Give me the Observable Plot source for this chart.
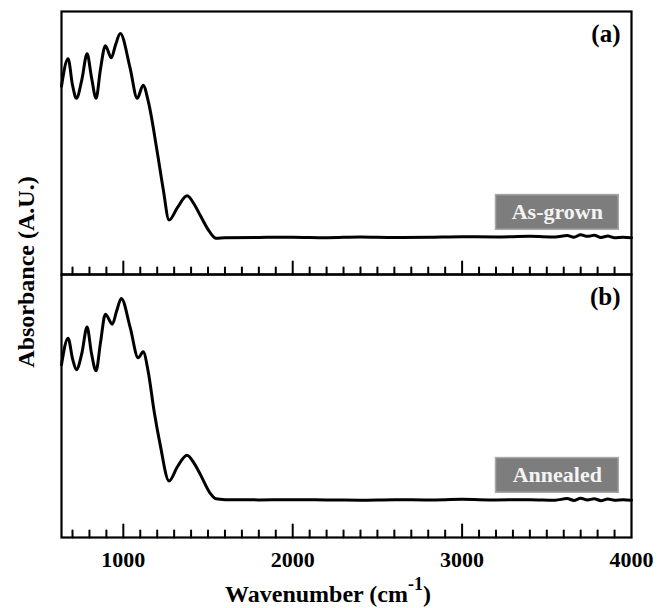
<!DOCTYPE html>
<html><head><meta charset="utf-8">
<script src="https://cdn.jsdelivr.net/npm/d3@7"></script>
<script src="https://cdn.jsdelivr.net/npm/@observablehq/plot@0.6"></script>
<style>body{margin:0;background:#fff} #chart svg{display:block}</style>
</head><body><div id="chart"></div>
<script>
// Panel (a): As-grown
const waveA = [635, 674, 700, 723, 755, 786, 812, 839, 865, 894, 929, 955, 982, 1040, 1082, 1117, 1147, 1200, 1235, 1270, 1320, 1376, 1420, 1453, 1511, 1547, 1600, 1800, 2000, 2200, 2400, 2600, 2800, 3000, 3200, 3400, 3550, 3620, 3660, 3700, 3740, 3780, 3820, 3860, 3900, 3950, 4000];
const absA  = [71.6, 82.0, 72.0, 67.0, 74.0, 83.9, 75.0, 67.0, 78.0, 87.0, 82.4, 87.5, 91.6, 78.5, 67.0, 72.0, 65.9, 46.7, 32.6, 20.7, 25.5, 29.9, 26.5, 22.6, 16.1, 13.8, 14.0, 14.1, 14.2, 14.0, 14.3, 14.1, 14.2, 14.4, 14.3, 14.5, 14.3, 14.8, 14.2, 15.1, 14.5, 14.9, 14.1, 14.6, 14.0, 14.2, 14.0];
// Panel (b): Annealed
const waveB = [635, 674, 700, 723, 755, 786, 812, 839, 865, 894, 935, 960, 988, 1040, 1088, 1117, 1147, 1182, 1217, 1270, 1320, 1376, 1420, 1453, 1511, 1547, 1600, 1800, 2000, 2200, 2400, 2600, 2800, 3000, 3200, 3400, 3550, 3620, 3660, 3700, 3740, 3780, 3820, 3860, 3900, 3950, 4000];
const absB  = [65.7, 75.8, 68.0, 63.8, 70.0, 80.0, 70.0, 63.4, 74.0, 84.9, 81.1, 86.0, 90.9, 80.0, 68.3, 70.6, 63.0, 47.9, 35.5, 21.5, 27.0, 31.3, 28.0, 24.2, 17.0, 14.7, 14.4, 14.3, 14.4, 14.3, 14.2, 14.4, 14.3, 14.5, 14.3, 14.4, 14.2, 14.8, 14.1, 14.9, 14.3, 14.7, 14.0, 14.6, 14.2, 14.4, 14.2];

const panels = ["a", "b"];
const panelLabels = ["(a)", "(b)"];
const sampleLabels = ["As-grown", "Annealed"];
const xTickLabels = [1000, 2000, 3000, 4000];
const majorTicks = [1000, 2000, 3000];
const minorTicks = [700, 800, 900, 1100, 1200, 1300, 1400, 1500, 1600, 1700, 1800, 1900, 2100, 2200, 2300, 2400, 2500, 2600, 2700, 2800, 2900, 3100, 3200, 3300, 3400, 3500, 3600, 3700, 3800, 3900];

const rows = [
  ...waveA.map((w, i) => ({panel: "a", w, A: absA[i]})),
  ...waveB.map((w, i) => ({panel: "b", w, A: absB[i]}))
];

const tickShape = {draw(ctx, l) { ctx.moveTo(0, 0); ctx.lineTo(0, -l); }};
const serif = "'Liberation Serif', 'Times New Roman', serif";

const chart = Plot.plot({
  width: 670,
  height: 608,
  marginLeft: 61,
  marginRight: 39,
  marginTop: 11,
  marginBottom: 71,
  style: {fontFamily: serif, fontWeight: "bold", background: "#fff", color: "#000"},
  x: {domain: [635, 4000]},
  y: {domain: [0, 100], axis: null},
  fy: {domain: panels, axis: null, padding: 0},
  marks: [
    Plot.line(rows, {x: "w", y: "A", fy: "panel", curve: "monotone-x", stroke: "#000", strokeWidth: 3}),
    Plot.vector(minorTicks, {x: d => d, frameAnchor: "bottom", anchor: "start", length: 7, shape: tickShape, stroke: "#000", strokeWidth: 2}),
    Plot.vector(majorTicks, {x: d => d, frameAnchor: "bottom", anchor: "start", length: 13, shape: tickShape, stroke: "#000", strokeWidth: 2}),
    Plot.rect(panels, {fy: d => d, x1: 3200, x2: 3925, y1: 17.0, y2: 30.2, fill: "#7d7d7d", stroke: "#a8a8a8", strokeWidth: 1.5}),
    Plot.text(panels, {fy: d => d, x: 3562, y: 23.6, text: (d, i) => sampleLabels[i], fill: "#f4f4f4", fontSize: 22, fontWeight: "bold", fontFamily: serif}),
    Plot.text(panels, {fy: d => d, text: (d, i) => panelLabels[i], frameAnchor: "top-right", dx: -11, dy: 13, fontSize: 25, fontWeight: "bold", fontFamily: serif, lineAnchor: "top"}),
    Plot.frame({stroke: "#000", strokeWidth: 2.2}),
    Plot.axisX(xTickLabels, {anchor: "bottom", tickSize: 0, tickPadding: 14, tickFormat: d => String(d), fontSize: 22, fontWeight: "bold", label: null})
  ]
});

const svg = d3.select(chart);
svg.append("text")
  .attr("transform", "translate(26,272) rotate(-90)")
  .attr("text-anchor", "middle")
  .attr("dominant-baseline", "central")
  .style("font-family", serif).style("font-weight", "bold").style("font-size", "24px")
  .text("Absorbance (A.U.)");
const xt = svg.append("text")
  .attr("x", 328).attr("y", 602)
  .attr("text-anchor", "middle")
  .style("font-family", serif).style("font-weight", "bold").style("font-size", "24px");
xt.append("tspan").text("Wavenumber (cm");
xt.append("tspan").attr("dy", -12).style("font-size", "18px").text("-1");
xt.append("tspan").attr("dy", 12).text(")");

document.getElementById("chart").appendChild(chart);
</script>
</body></html>
